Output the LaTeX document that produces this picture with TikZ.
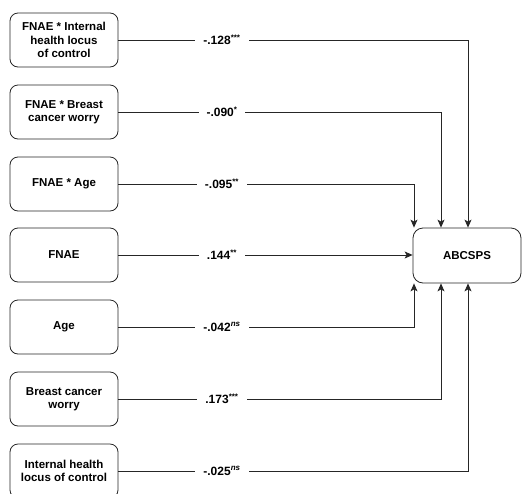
\documentclass[tikz,border=0pt]{standalone}
\usepackage{fontspec}
\setmainfont{Liberation Sans}
\usetikzlibrary{arrows.meta,calc}

\tikzset{
  predictor/.style={draw=black!85, line width=0.8pt, rounded corners=8pt,
    minimum width=108pt, minimum height=54pt, align=center,
    font=\fontsize{11.5}{13.5}\selectfont\bfseries, inner sep=2pt},
  outcome/.style={predictor, rounded corners=10pt, minimum height=55pt},
  path/.style={draw=black!85, line width=0.8pt,
    -{Stealth[length=8pt,width=7pt,inset=2pt]}},
  coef/.style={fill=white, inner xsep=8pt, inner ysep=1pt,
    font=\fontsize{12}{14}\selectfont\bfseries},
}

\newcommand{\ns}{\textsuperscript{\itshape ns}}

\begin{document}
\begin{tikzpicture}[x=1pt,y=-1pt]
  \useasboundingbox (0,0) rectangle (522,493);

  % predictors
  \node[predictor] (p1) at (64,40)  {FNAE * Internal\\health locus\\of control};
  \node[predictor] (p2) at (64,112) {FNAE * Breast\\cancer worry};
  \node[predictor] (p3) at (64,184) {FNAE * Age};
  \node[predictor] (p4) at (64,255) {FNAE};
  \node[predictor] (p5) at (64,327) {Age};
  \node[predictor] (p6) at (64,399) {Breast cancer\\worry};
  \node[predictor] (p7) at (64,471) {Internal health\\locus of control};

  % outcome
  \node[outcome] (y) at (467,255.5) {ABCSPS};

  % entry points on the outcome box
  \coordinate (tA) at ($(y.north)+(1,0)$);
  \coordinate (tB) at ($(y.north)+(-26,0)$);
  \coordinate (tC) at ($(y.north)+(-53,0)$);
  \coordinate (bA) at ($(y.south)+(1,0)$);
  \coordinate (bB) at ($(y.south)+(-26,0)$);
  \coordinate (bC) at ($(y.south)+(-53,0)$);

  % connectors
  \draw[path] (p1.east) -| (tA);
  \draw[path] (p2.east) -| (tB);
  \draw[path] (p3.east) -| (tC);
  \draw[path] (p4.east) -- (p4.east -| y.west);
  \draw[path] (p5.east) -| (bC);
  \draw[path] (p6.east) -| (bB);
  \draw[path] (p7.east) -| (bA);

  % coefficients
  \coordinate (cx) at (222,0);
  \node[coef] at (cx |- p1.east) {-.128\textsuperscript{***}};
  \node[coef] at (cx |- p2.east) {-.090\textsuperscript{*}};
  \node[coef] at (cx |- p3.east) {-.095\textsuperscript{**}};
  \node[coef] at (cx |- p4.east) {.144\textsuperscript{**}};
  \node[coef] at (cx |- p5.east) {-.042\ns};
  \node[coef] at (cx |- p6.east) {.173\textsuperscript{***}};
  \node[coef] at (cx |- p7.east) {-.025\ns};
\end{tikzpicture}
\end{document}
